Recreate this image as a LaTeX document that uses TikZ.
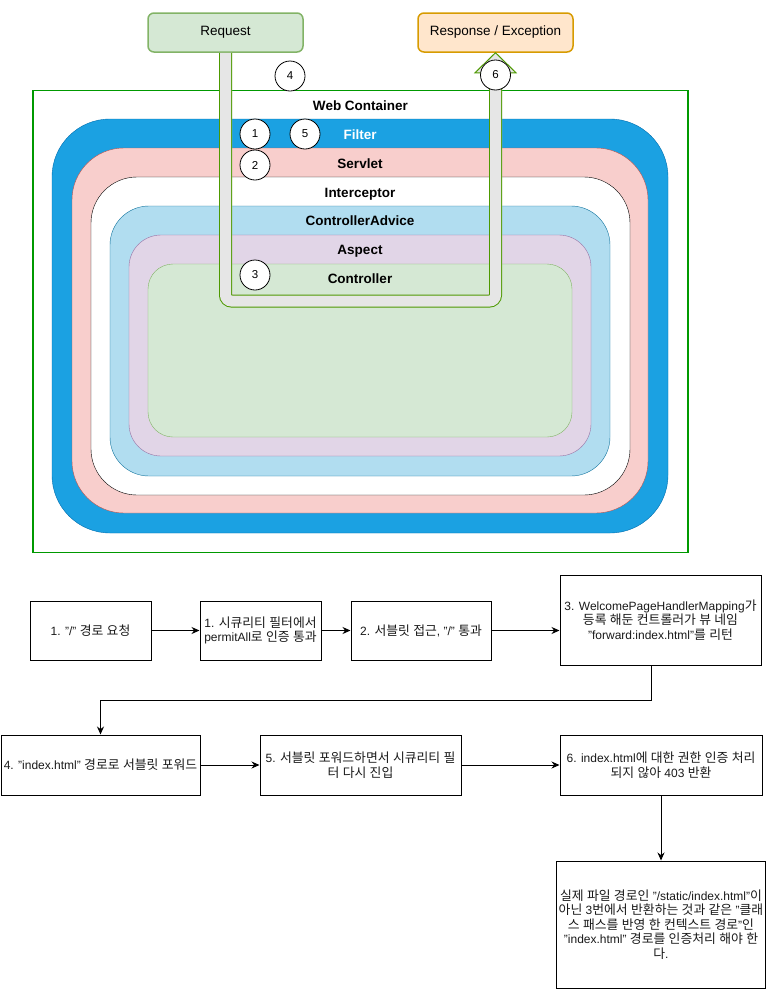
\documentclass[tikz,border=0pt]{standalone}
\usepackage{fontspec}
\setmainfont{Liberation Sans}
\newfontfamily\krfont{Noto Sans CJK KR}[Scale=1.07]
\usetikzlibrary{arrows.meta}

\XeTeXinterchartokenstate=1
\chardef\hangulclass=100
\newcount\hgcount
\hgcount="AC00
\loop
	\XeTeXcharclass\hgcount=\hangulclass
	\advance\hgcount by 1
\ifnum\hgcount<"D7A4 \repeat
\XeTeXinterchartoks 0 \hangulclass={\krfont}
\XeTeXinterchartoks 4095 \hangulclass={\krfont}
\XeTeXinterchartoks \hangulclass 0={\rmfamily}
\XeTeXinterchartoks \hangulclass 4095={\rmfamily}

\definecolor{wcline}{HTML}{009900}
\definecolor{filterfill}{HTML}{1BA1E2}
\definecolor{filterline}{HTML}{006EAF}
\definecolor{servletfill}{HTML}{F8CECC}
\definecolor{servletline}{HTML}{B85450}
\definecolor{advicefill}{HTML}{B1DDF0}
\definecolor{adviceline}{HTML}{10739E}
\definecolor{aspectfill}{HTML}{E1D5E7}
\definecolor{aspectline}{HTML}{9673A6}
\definecolor{ctrlfill}{HTML}{D5E8D4}
\definecolor{ctrlline}{HTML}{82B366}
\definecolor{respfill}{HTML}{FFE6CC}
\definecolor{respline}{HTML}{D79B00}
\definecolor{pipefill}{HTML}{E6E6E6}
\definecolor{pipeline}{HTML}{4D9900}

\begin{document}
\begin{tikzpicture}[x=1pt,y=-1pt,
	topbox/.style={draw, line width=1.5pt, rounded corners=6pt, minimum width=155pt, minimum height=39pt, font=\fontsize{13.5}{16}\selectfont},
	layername/.style={anchor=base, font=\bfseries\fontsize{13.5}{16}\selectfont},
	pipe/.style={draw=pipeline, double=pipefill, double distance=11pt, line width=1pt, rounded corners=6pt},
	pipeshadow/.style={draw=black!12, line width=13pt, rounded corners=12pt},
	numcirc/.style={circle, draw, fill=white, line width=0.8pt, minimum size=30pt, inner sep=0pt, font=\fontsize{11.5}{13}\selectfont},
	stepbox/.style={draw, line width=1pt, align=center, inner sep=2pt, text=black!90, font=\fontsize{12}{14.5}\selectfont},
	flow/.style={-{Stealth[length=8pt,width=7pt]}, line width=1pt}]
			\useasboundingbox (0,0) rectangle (766,991);

			\node[topbox, fill=ctrlfill, draw=ctrlline] (req) at (225.5,32.5) {Request};
			\node[topbox, fill=respfill, draw=respline] (resp) at (495.5,32.5) {Response / Exception};

			\draw[draw=wcline, line width=1.5pt, fill=white] (33,90.5) rectangle (688,552.5);
			\draw[fill=filterfill, draw=filterline, rounded corners=58pt] (52,119) rectangle (668,533);
			\draw[fill=servletfill, draw=servletline, rounded corners=52pt] (72,148) rectangle (648,513);
			\draw[fill=white, draw=black, rounded corners=46pt] (91,177) rectangle (630,495);
			\draw[fill=advicefill, draw=adviceline, rounded corners=39pt] (110,206) rectangle (610,476);
			\draw[fill=aspectfill, draw=aspectline, rounded corners=32pt] (129,235) rectangle (591,456);
			\draw[fill=ctrlfill, draw=ctrlline, rounded corners=25pt] (148,264) rectangle (572,437);

			\node[layername] (wc) at (360.5,110) {Web Container};
			\node[layername, text=white] (filter) at (360,139) {Filter};
			\node[layername] (servlet) at (360,168) {Servlet};
			\node[layername] (interceptor) at (360,197) {Interceptor};
			\node[layername] (advice) at (360,225.5) {ControllerAdvice};
			\node[layername] (aspect) at (360,254.5) {Aspect};
			\node[layername] (controller) at (360,283.5) {Controller};

			\coordinate (bottom) at (0,301);
			\coordinate (headbase) at (0,72);
			\draw[pipeshadow, shift={(2.5,3)}] (req.south) -- (req.south |- bottom) -- (resp.south |- bottom) -- (resp.south |- headbase);
			\draw[pipe] (req.south) -- (req.south |- bottom) -- (resp.south |- bottom) -- (resp.south |- headbase);
			\draw[draw=pipeline, fill=pipefill, line width=1pt] (resp.south) -- ++(20.5,20) -- ++(-41,0) -- cycle;

			\node[numcirc] (c4) at (290,76) {4};
			\node[numcirc] (c6) at (495.5,75) {6};
			\node[numcirc] (c1) at (255,134) {1};
			\node[numcirc] (c5) at (305,134) {5};
			\node[numcirc] (c2) at (255,165) {2};
			\node[numcirc] (c3) at (255,275) {3};

			\node[stepbox, minimum width=121pt, minimum height=59pt] (b1) at (90.5,630.5) {1. "/" 경로 요청};
			\node[stepbox, minimum width=121pt, minimum height=59pt] (b2) at (260.5,630.5) {1. 시큐리티 필터에서\\permitAll로 인증 통과};
			\node[stepbox, minimum width=140pt, minimum height=59pt] (b3) at (421,630.5) {2. 서블릿 접근, "/" 통과};
			\node[stepbox, minimum width=201pt, minimum height=90pt] (b4) at (660.5,620) {3. WelcomePageHandlerMapping가\\등록 해둔 컨트롤러가 뷰 네임\\"forward:index.html"를 리턴};
			\node[stepbox, minimum width=199pt, minimum height=60pt] (b5) at (100.5,765) {4. "index.html" 경로로 서블릿 포워드};
			\node[stepbox, minimum width=201pt, minimum height=60pt] (b6) at (360.5,765) {5. 서블릿 포워드하면서 시큐리티 필\\터 다시 진입};
			\node[stepbox, minimum width=202pt, minimum height=60pt] (b7) at (661,765) {6. index.html에 대한 권한 인증 처리\\되지 않아 403 반환};
			\node[stepbox, minimum width=208pt, minimum height=127pt] (b8) at (661,924.5) {실제 파일 경로인 "/static/index.html"이\\아닌 3번에서 반환하는 것과 같은 "클래\\스 패스를 반영 한 컨텍스트 경로"인\\"index.html" 경로를 인증처리 해야 한\\다.};

			\coordinate (turn) at (651,700);
			\draw[flow] (b1) -- (b2);
			\draw[flow] (b2) -- (b3);
			\draw[flow] (b3.east) -- (b3.east -| b4.west);
			\draw[flow] (b4.south -| turn) -- (turn) -| (b5.north);
			\draw[flow] (b5) -- (b6);
			\draw[flow] (b6) -- (b7);
			\draw[flow] (b7) -- (b8);
		\end{tikzpicture}
\end{document}
